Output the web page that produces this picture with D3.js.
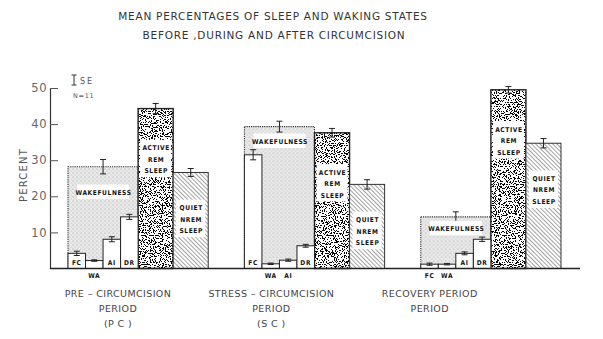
<!DOCTYPE html>
<html>
<head>
<meta charset="utf-8">
<script src="https://cdn.jsdelivr.net/npm/d3@7"></script>
<style>
  body { margin: 0; background: #fff; }
  svg { display: block; }
  text { font-family: "DejaVu Sans", sans-serif; }
  .lab { font-family: "DejaVu Sans Condensed", "DejaVu Sans", sans-serif; font-weight: bold; font-size: 6.6px; letter-spacing: 0.6px; fill: #111; }
</style>
</head>
<body>
<div id="chart"></div>
<script>
// values (percent of time)
const periods = ['PC', 'SC', 'RP'];
const periodLabels = [
    ['PRE \u2013 CIRCUMCISION', 'PERIOD', '(P C )'],
    ['STRESS \u2013 CIRCUMCISION', 'PERIOD', '(S C )'],
    ['RECOVERY PERIOD', 'PERIOD']
];
const subStates = ['FC', 'WA', 'AI', 'DR'];

const wake = [28.2, 39.3, 14.3];
const wakeSE = [2.0, 1.5, 1.4];
const fc = [4.2, 31.5, 1.2];
const fcSE = [0.6, 1.4, 0.3];
const wa = [2.2, 1.3, 1.2];
const waSE = [0.2, 0.2, 0.2];
const ai = [8.1, 2.3, 4.2];
const aiSE = [0.7, 0.3, 0.4];
const dr = [14.3, 6.3, 8.1];
const drSE = [0.7, 0.4, 0.6];
const rem = [44.3, 37.6, 49.5];
const remSE = [1.4, 1.2, 0.9];
const nrem = [26.6, 23.3, 34.7];
const nremSE = [1.1, 1.3, 1.3];
const yTicks = [10, 20, 30, 40, 50];

const subVals = [fc, wa, ai, dr];
const subSEs = [fcSE, waSE, aiSE, drSE];

// where the period captions sit relative to each group's left edge
const captionShift = [50, 27, 9];

const W = 603, H = 339;
const svg = d3.select('#chart').append('svg').attr('width', W).attr('height', H);
const defs = svg.append('defs');

// light stipple for wakefulness
const pw = defs.append('pattern').attr('id', 'stip').attr('width', 4).attr('height', 4)
    .attr('patternUnits', 'userSpaceOnUse');
pw.append('rect').attr('width', 4).attr('height', 4).attr('fill', '#eaeaea');
pw.append('circle').attr('cx', 1).attr('cy', 1).attr('r', 0.6).attr('fill', '#999');
pw.append('circle').attr('cx', 3).attr('cy', 3).attr('r', 0.5).attr('fill', '#b0b0b0');

// diagonal hatch for quiet sleep
const ph = defs.append('pattern').attr('id', 'hatch').attr('width', 3).attr('height', 3)
    .attr('patternUnits', 'userSpaceOnUse').attr('patternTransform', 'rotate(-45)');
ph.append('rect').attr('width', 3).attr('height', 3).attr('fill', '#fff');
ph.append('line').attr('x1', 0).attr('y1', 0).attr('x2', 0).attr('y2', 3)
    .attr('stroke', '#555').attr('stroke-width', 1.1);

// dark speckle for active sleep
const f = defs.append('filter').attr('id', 'speckle')
    .attr('x', 0).attr('y', 0).attr('width', '100%').attr('height', '100%');
f.append('feTurbulence').attr('type', 'fractalNoise').attr('baseFrequency', 0.9)
    .attr('numOctaves', 2).attr('seed', 7).attr('result', 'n');
f.append('feColorMatrix').attr('in', 'n').attr('type', 'matrix')
    .attr('values', '0 0 0 0 0  0 0 0 0 0  0 0 0 0 0  -1 0 0 0 1').attr('result', 'a');
f.append('feComponentTransfer').attr('in', 'a').attr('result', 't')
    .append('feFuncA').attr('type', 'discrete')
    .attr('tableValues', '0 0 0 0 0 0 0 0 0 0 0 1 1 1 1 1 1 1 1 1');
f.append('feFlood').attr('flood-color', '#fff').attr('result', 'w');
f.append('feComposite').attr('in', 't').attr('in2', 'w').attr('operator', 'over').attr('result', 'm');
f.append('feComposite').attr('in', 'm').attr('in2', 'SourceAlpha').attr('operator', 'in');

const y = d3.scaleLinear().domain([0, 50]).range([268.5, 88]);
const xg = d3.scaleBand().domain(periods).range([68, 561]).paddingInner(0.205).paddingOuter(0);
// slots within a group: 0-4 wake (sub bars), 4-6 active, 6-8 quiet
const xs = d3.scaleLinear().domain([0, 8]).range([0, xg.bandwidth()]);

// title
const title = svg.append('g').attr('font-size', 10.5).attr('letter-spacing', 0.75).style('fill', '#333');
title.append('text').attr('x', 273).attr('y', 20).attr('text-anchor', 'middle')
    .text('MEAN PERCENTAGES OF SLEEP AND WAKING STATES');
title.append('text').attr('x', 274).attr('y', 39).attr('text-anchor', 'middle')
    .text('BEFORE ,DURING AND AFTER CIRCUMCISION');

// axis
const axis = svg.append('g').attr('transform', 'translate(50,0)')
    .call(d3.axisRight(y).tickValues(yTicks).tickSize(8).tickSizeOuter(0).tickFormat(d3.format('d')));
axis.select('.domain').attr('stroke', '#333').attr('stroke-width', 1.2);
axis.selectAll('.tick line').attr('stroke', '#555');
axis.selectAll('.tick text').attr('x', -3).attr('text-anchor', 'end')
    .attr('font-size', 11.5).style('fill', '#666').attr('letter-spacing', 0.5)
    .attr('font-family', '"DejaVu Sans", sans-serif');

svg.append('text').attr('transform', 'translate(27,175) rotate(-90)')
    .attr('text-anchor', 'middle').attr('font-size', 10).attr('letter-spacing', 1.2).style('fill', '#555')
    .text('PERCENT');

function errBar(g, x, v, se) {
    const y1 = y(v + se), y2 = y(Math.max(v - se, 0));
    g.append('line').attr('x1', x).attr('x2', x).attr('y1', y1).attr('y2', y2)
        .attr('stroke', '#222').attr('stroke-width', 1);
    [y1, y2].forEach(yy => g.append('line').attr('x1', x - 3).attr('x2', x + 3)
        .attr('y1', yy).attr('y2', yy).attr('stroke', '#222').attr('stroke-width', 1));
}

// SE legend
const leg = svg.append('g');
leg.append('line').attr('x1', 74).attr('x2', 74).attr('y1', 75).attr('y2', 85).attr('stroke', '#333');
leg.append('line').attr('x1', 71.5).attr('x2', 76.5).attr('y1', 75).attr('y2', 75).attr('stroke', '#333');
leg.append('line').attr('x1', 71.5).attr('x2', 76.5).attr('y1', 85).attr('y2', 85).attr('stroke', '#333');
leg.append('text').attr('x', 80).attr('y', 84).attr('font-size', 8).attr('letter-spacing', 2).style('fill', '#555').text('SE');
leg.append('text').attr('x', 73).attr('y', 98).attr('font-size', 6.5).attr('letter-spacing', 0.7).style('fill', '#555').text('N=11');

function boxLabel(g, cx, cy, lines, w) {
    const lh = 11.5;
    const h = lines.length * lh + 3;
    g.append('rect').attr('x', cx - w / 2).attr('y', cy - h / 2).attr('width', w).attr('height', h).attr('fill', '#fff');
    lines.forEach((s, i) => g.append('text').attr('class', 'lab').attr('x', cx + 0.5)
        .attr('y', cy - h / 2 + 2 + lh * i + 8.5).attr('text-anchor', 'middle').text(s));
}

periods.forEach((p, i) => {
    const g = svg.append('g').attr('transform', `translate(${xg(p)},0)`);
    // wakefulness block
    g.append('rect').attr('x', xs(0)).attr('y', y(wake[i])).attr('width', xs(4) - xs(0))
        .attr('height', y(0) - y(wake[i])).attr('fill', 'url(#stip)')
        .attr('stroke', '#333').attr('stroke-width', 1.1).attr('stroke-dasharray', '1.2,1');
    // active REM
    g.append('rect').attr('x', xs(4)).attr('y', y(rem[i])).attr('width', xs(6) - xs(4))
        .attr('height', y(0) - y(rem[i])).attr('fill', '#000').attr('filter', 'url(#speckle)');
    g.append('rect').attr('x', xs(4)).attr('y', y(rem[i])).attr('width', xs(6) - xs(4))
        .attr('height', y(0) - y(rem[i])).attr('fill', 'none').attr('stroke', '#222').attr('stroke-width', 1.4);
    // quiet NREM
    g.append('rect').attr('x', xs(6)).attr('y', y(nrem[i])).attr('width', xs(8) - xs(6))
        .attr('height', y(0) - y(nrem[i])).attr('fill', 'url(#hatch)')
        .attr('stroke', '#333').attr('stroke-width', 1);

    // sub bars
    const mx = d3.max(subVals, a => a[i]);
    subStates.forEach((s, j) => {
        const v = subVals[j][i];
        g.append('rect').attr('x', xs(j)).attr('y', y(v)).attr('width', xs(j + 1) - xs(j))
            .attr('height', y(0) - y(v)).attr('fill', '#fff').attr('stroke', '#222').attr('stroke-width', 1);
        errBar(g, (xs(j) + xs(j + 1)) / 2, v, subSEs[j][i]);
        const inside = v > 3;
        g.append('text').attr('class', 'lab').attr('x', (xs(j) + xs(j + 1)) / 2)
            .attr('y', inside ? y(0) - 3.5 : y(0) + 9).attr('text-anchor', 'middle')
            .attr('font-size', inside ? 6.6 : 6).text(s);
    });

    errBar(g, xs(2), wake[i], wakeSE[i]);
    errBar(g, xs(5), rem[i], remSE[i]);
    errBar(g, xs(7), nrem[i], nremSE[i]);

    boxLabel(g, xs(2), (y(wake[i]) + y(mx)) / 2, ['WAKEFULNESS'], 52);
    boxLabel(g, xs(5), y(rem[i]) + 50, ['ACTIVE', 'REM', 'SLEEP'], xs(6) - xs(4) - 4);
    boxLabel(g, xs(7), y(nrem[i]) + 46, ['QUIET', 'NREM', 'SLEEP'], xs(8) - xs(6) - 6);

    // period captions
    periodLabels[i].forEach((s, k) => {
        svg.append('text').attr('x', xg(p) + captionShift[i])
            .attr('y', 297 + k * 15).attr('text-anchor', 'middle')
            .attr('font-size', 9.5).attr('letter-spacing', 0.4).style('fill', '#444').text(s);
    });
});

// baseline
svg.append('line').attr('x1', 50).attr('x2', 580).attr('y1', y(0)).attr('y2', y(0))
    .attr('stroke', '#222').attr('stroke-width', 1.3);
</script>
</body>
</html>
